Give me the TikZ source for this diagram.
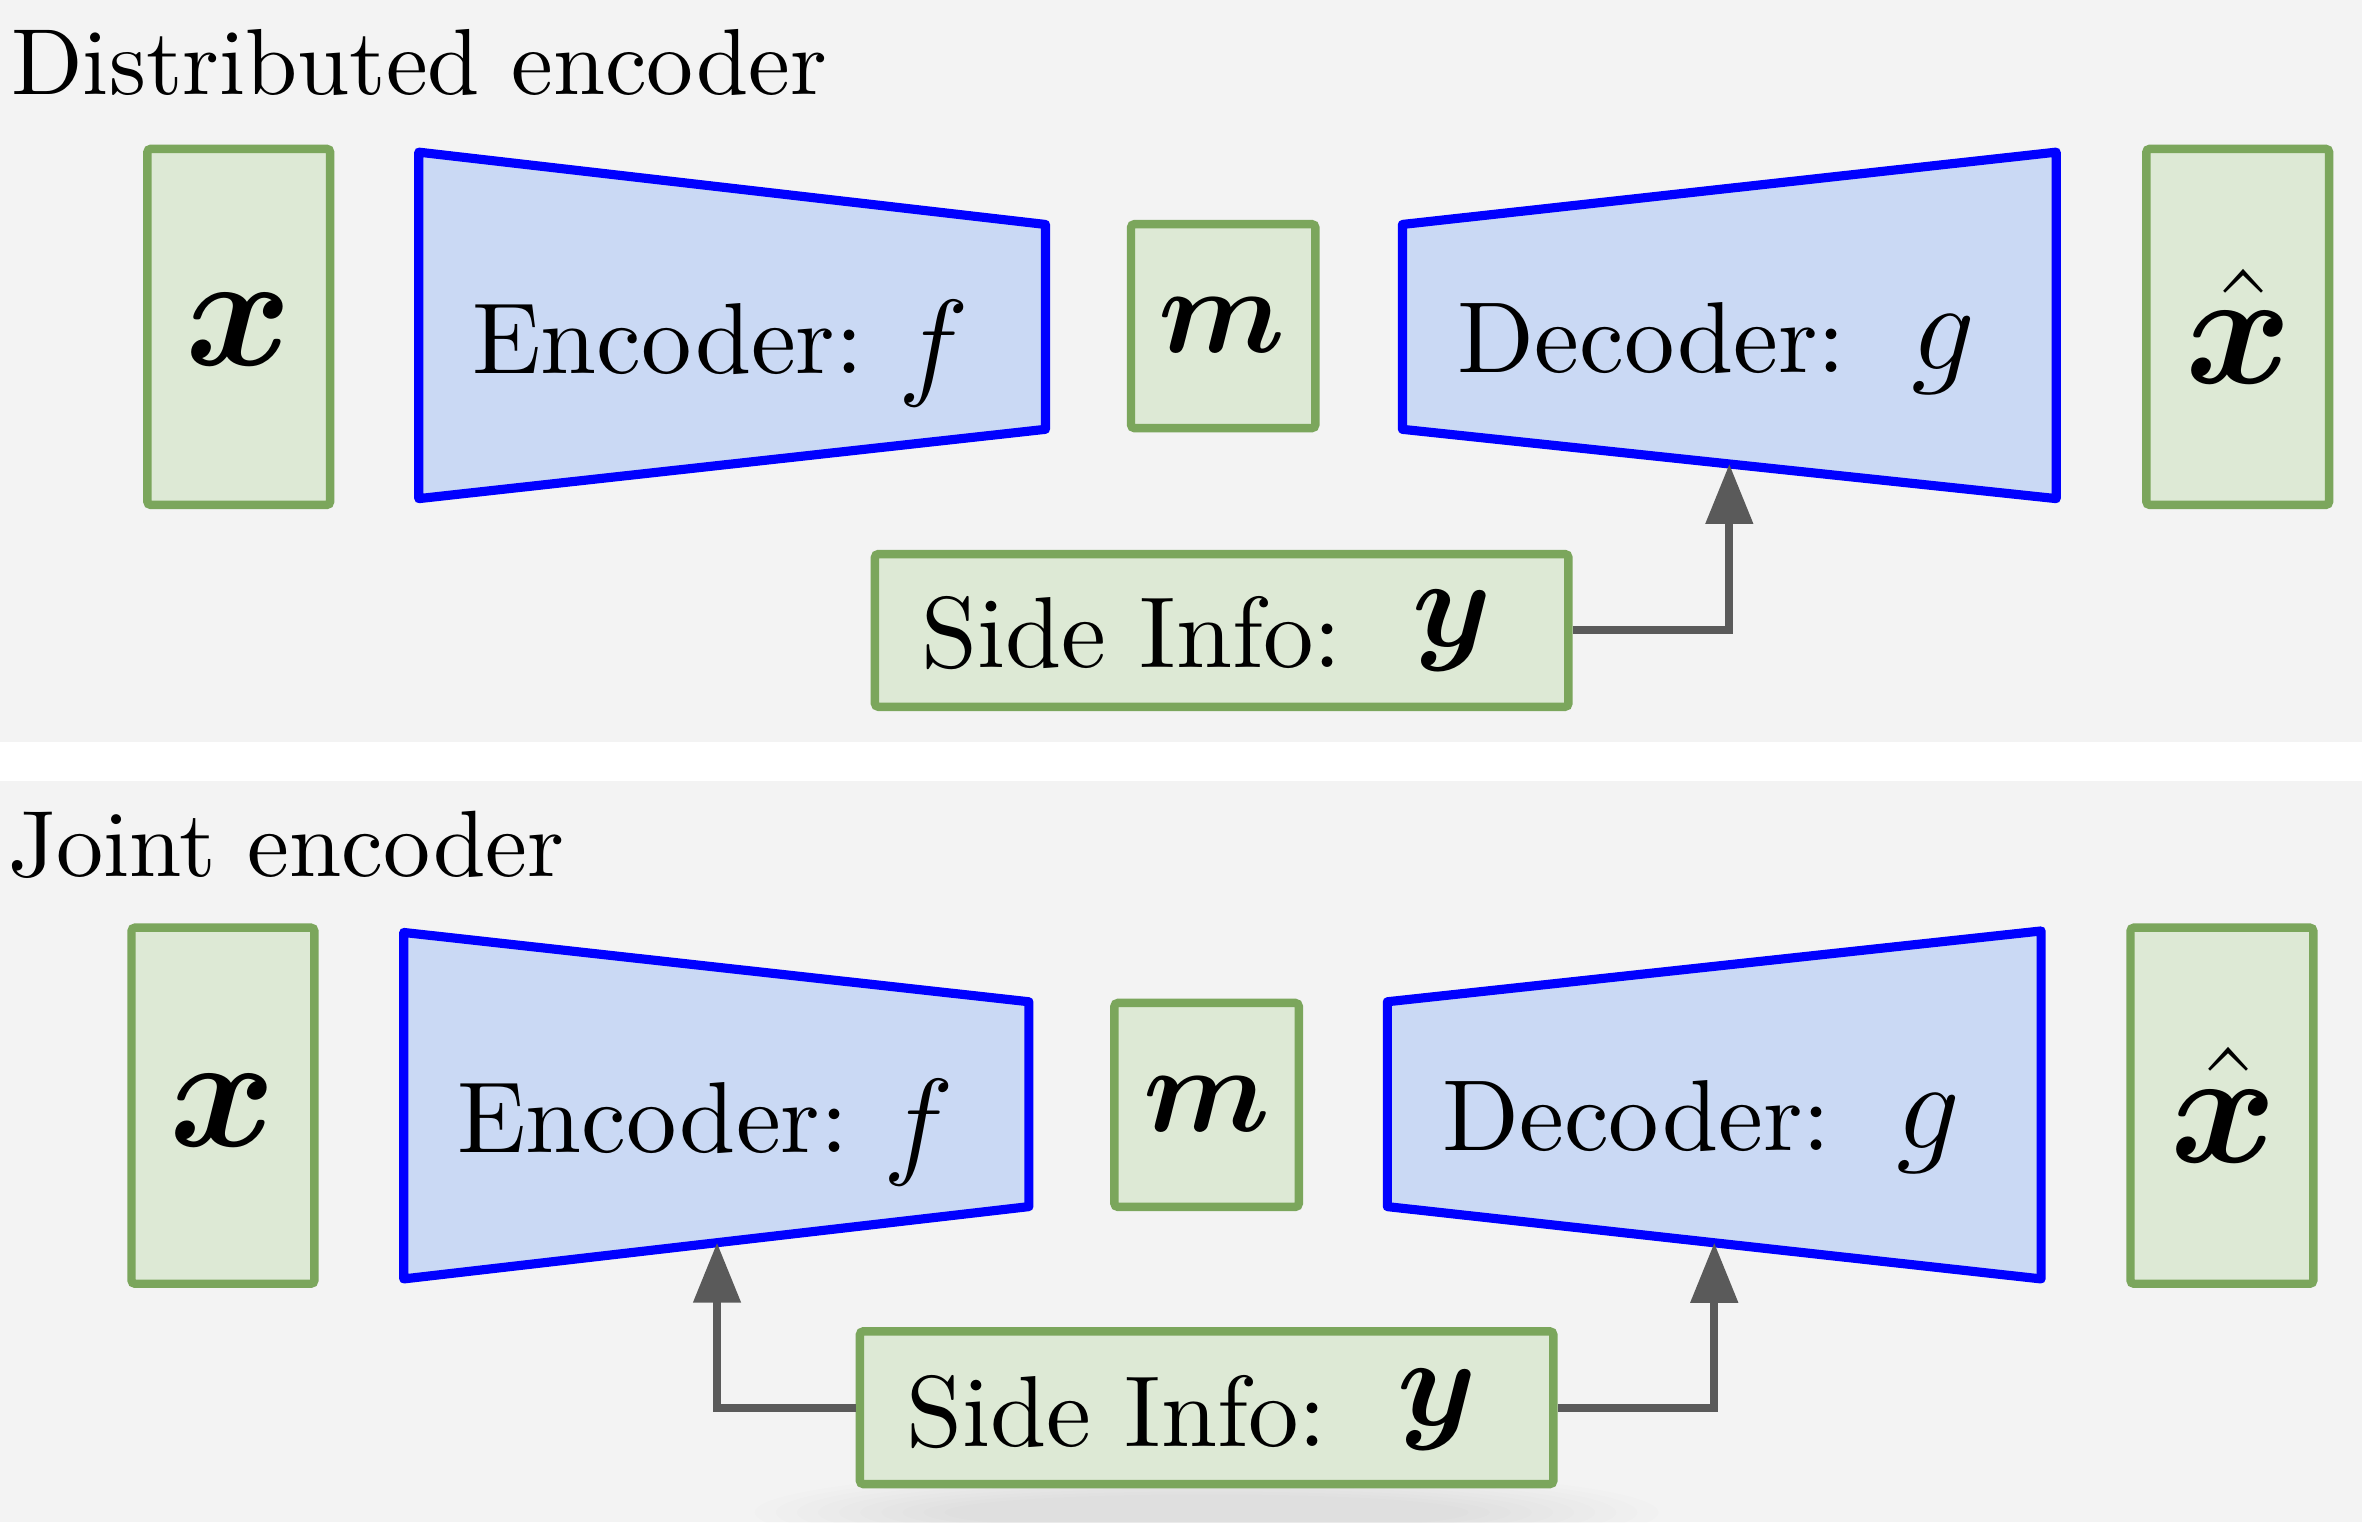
\RequirePackage{fix-cm}
\documentclass[tikz,border=0pt]{standalone}
\usepackage{amsmath,bm}
\usepackage{fontspec}
\setmainfont{lmroman10-regular.otf}
\usetikzlibrary{arrows.meta,calc}
\definecolor{bg}{HTML}{F3F3F3}
\definecolor{gfill}{HTML}{DDE9D5}
\definecolor{gline}{HTML}{7BA65C}
\definecolor{bfill}{HTML}{CAD9F4}
\definecolor{bline}{HTML}{0000FF}
\definecolor{arrgray}{HTML}{5A5A5A}
\def\U{0.15064mm}
\newcommand{\fs}[1]{\fontsize{#1}{#1}\selectfont}
\begin{document}
\begin{tikzpicture}[x=\U, y=-\U,
  gbox/.style={draw=gline, fill=gfill, line width=2.4pt, rounded corners=1pt, inner sep=0pt},
  trap/.style={draw=bline, fill=bfill, line width=2.6pt, line join=round},
  lbl/.style={inner sep=0pt, anchor=base west},
  sym/.style={inner sep=0pt},
  arr/.style={draw=arrgray, line width=2.3pt, -{Triangle[length=6mm,width=4.6mm]}},
  tall/.style={minimum width={121.4*\U}, minimum height={236.4*\U}},
  mid/.style={minimum width={122.4*\U}, minimum height={135.4*\U}},
  side/.style={minimum width={460.4*\U}, minimum height={101.4*\U}},
]
\useasboundingbox (0,0) rectangle (1568,1010.4);
\fill[white] (0,0) rectangle (1568,1010.4);
\fill[bg] (0,0) rectangle (1568,492.6);
\fill[bg] (0,518.5) rectangle (1568,1010.4);

% ---------- top panel ----------
\node[lbl] (t1) at (7,62.4) {\fs{26.7}Distributed encoder};
\node[gbox, tall] (xa) at (158.5,217) {};
\node[sym] (xs1) at (158.5,219) {\fs{46}$\bm{x}$};
\coordinate (e1tl) at (278,101); \coordinate (e1tr) at (694,149);
\coordinate (e1br) at (694,285); \coordinate (e1bl) at (278,331);
\draw[trap] (e1tl) -- (e1tr) -- (e1br) -- (e1bl) -- cycle;
\node[lbl] (enc1) at (313,248) {\fs{28.7}Encoder:};
\node[sym] (f1) at (620,235) {\fs{34}$f$};
\node[gbox, mid] (m1) at (812,216.5) {};
\node[sym] (ms1) at (811,216) {\fs{35}$\bm{m}$};
\coordinate (d1tl) at (931,149); \coordinate (d1tr) at (1365,101);
\coordinate (d1br) at (1365,331); \coordinate (d1bl) at (931,285);
\draw[trap] (d1tl) -- (d1tr) -- (d1br) -- (d1bl) -- cycle;
\node[lbl] (dec1) at (967,247) {\fs{28.7}Decoder:};
\node[sym] (g1) at (1290,235.5) {\fs{36}$g$};
\node[gbox, tall] (xh1) at (1485.5,217) {};
\node[sym] (xhs1) at (1486,216.5) {\fs{46}$\hat{\bm{x}}$};
\node[gbox, side] (s1) at (811,418.5) {};
\node[lbl] (si1) at (611,443) {\fs{28.7}Side Info:};
\node[sym] (y1) at (964,419) {\fs{36}$\bm{y}$};
\coordinate (dt1) at ($(d1bl)!{(1148-931)/(1365-931)}!(d1br)$);
\draw[arr] (s1.east) -| (dt1);

% ---------- bottom panel ----------
\node[lbl] (t2) at (5,581.7) {\fs{26.8}Joint encoder};
\node[gbox, tall] (xa2) at (148,734) {};
\node[sym] (xs2) at (148,737) {\fs{46}$\bm{x}$};
\coordinate (e2tl) at (268,619); \coordinate (e2tr) at (683,665);
\coordinate (e2br) at (683,801); \coordinate (e2bl) at (268,849);
\draw[trap] (e2tl) -- (e2tr) -- (e2br) -- (e2bl) -- cycle;
\node[lbl] (enc2) at (303,765) {\fs{28.7}Encoder:};
\node[sym] (f2) at (610,752) {\fs{34}$f$};
\node[gbox, mid] (m2) at (801,733.5) {};
\node[sym] (ms2) at (801,733) {\fs{35}$\bm{m}$};
\coordinate (d2tl) at (921,665); \coordinate (d2tr) at (1355,618);
\coordinate (d2br) at (1355,849); \coordinate (d2bl) at (921,801);
\draw[trap] (d2tl) -- (d2tr) -- (d2br) -- (d2bl) -- cycle;
\node[lbl] (dec2) at (957,764) {\fs{28.7}Decoder:};
\node[sym] (g2) at (1280,752.5) {\fs{36}$g$};
\node[gbox, tall] (xh2) at (1475,734) {};
\node[sym] (xhs2) at (1476,733.5) {\fs{46}$\hat{\bm{x}}$};
% faint drop shadow under the side-info box
\begin{scope}
\clip (0,518.5) rectangle (1568,1010.4);
\foreach \i in {0,...,9} {
  \fill[black, opacity=0.009] (801,1004) ellipse [x radius={300-\i*14}, y radius={30-\i*2}];
}
\end{scope}
\node[gbox, side] (s2) at (801,934.5) {};
\node[lbl] (si2) at (601,960) {\fs{28.7}Side Info:};
\node[sym] (y2) at (954,936) {\fs{36}$\bm{y}$};
\coordinate (et2) at ($(e2bl)!{(476-268)/(683-268)}!(e2br)$);
\coordinate (dt2) at ($(d2bl)!{(1138-921)/(1355-921)}!(d2br)$);
\draw[arr] (s2.west) -| (et2);
\draw[arr] (s2.east) -| (dt2);
\end{tikzpicture}
\end{document}
